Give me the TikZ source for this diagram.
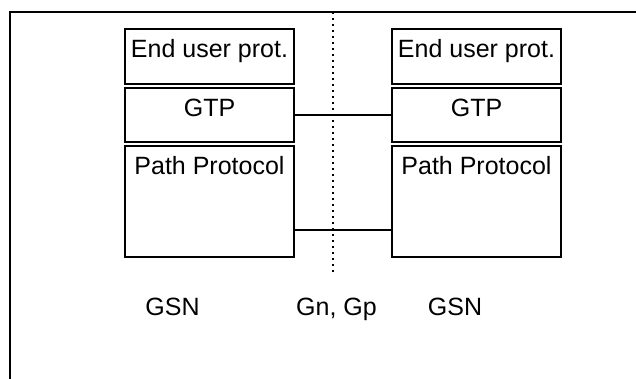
\documentclass[tikz,border=0pt]{standalone}
\usepackage{fontspec}
\setmainfont{Liberation Sans}
\usetikzlibrary{positioning}

\begin{document}
\begin{tikzpicture}[x=0.5pt, y=-0.5pt, node distance=1pt, font=\fontsize{12.5}{15}\selectfont]
    \tikzset{
        layer/.style={draw, line width=1pt, minimum width=84.5pt, inner sep=0pt, text height=14.5pt, text depth=13pt},
        link/.style={line width=0.75pt},
        iface/.style={dotted, line width=1pt}
    }
    \useasboundingbox (0,0) rectangle (636,379);

    % Frame
    \draw [line width=1pt] (636,12) -- (10,12) -- (10,379);

    % Left GSN stack
    \node [layer, anchor=north west] (endL) at (124,28) {End user prot.};
    \node [layer, text depth=12.5pt, below=of endL] (gtpL) {GTP};
    \node [layer, text depth=41pt, below=of gtpL] (pathL) {Path Protocol};

    % Right GSN stack
    \node [layer, right=48pt of endL] (endR) {End user prot.};
    \node [layer, text depth=12.5pt, below=of endR] (gtpR) {GTP};
    \node [layer, text depth=41pt, below=of gtpR] (pathR) {Path Protocol};

    % Interface
    \coordinate (ifTop) at (333,12);
    \coordinate (ifBot) at (333,273);
    \draw [iface] (ifTop) -- (ifBot);

    % Connections
    \draw [link] (gtpL.east) -- (gtpR.west);
    \draw [link] ([yshift=14pt]pathL.south east) -- ([yshift=14pt]pathR.south west);

    % Text
    \node [anchor=base] (gsnL) at (172.5,315) {GSN};
    \node [anchor=base] (gngp) at (336.5,315) {Gn, Gp};
    \node [anchor=base] (gsnR) at (455,315) {GSN};

\end{tikzpicture}
\end{document}
